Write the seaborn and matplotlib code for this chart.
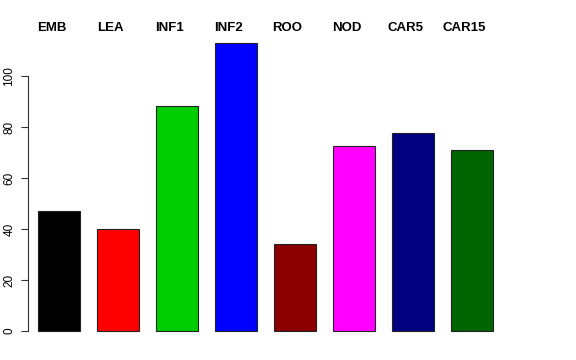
import matplotlib
matplotlib.use("Agg")
import matplotlib.pyplot as plt
import matplotlib.transforms as mtransforms
import seaborn as sns
import pandas as pd

categories = ["EMB", "LEA", "INF1", "INF2", "ROO", "NOD", "CAR5", "CAR15"]
values = [47.1, 40.0, 88.2, 112.9, 34.1, 72.5, 77.6, 71.0]
colors = ["#000000", "#FF0000", "#00CD00", "#0000FF", "#8B0000", "#FF00FF", "#000080", "#006400"]
yticks = [0, 20, 40, 60, 80, 100]

sns.set_style("white")
plt.rcParams["font.family"] = ["Liberation Sans", "DejaVu Sans"]
plt.rcParams["text.color"] = "black"
plt.rcParams["xtick.color"] = "black"
plt.rcParams["ytick.color"] = "black"

W, H = 576, 360
fig = plt.figure(figsize=(W / 100, H / 100), dpi=100)
left_px, right_px, top_px, bottom_px = 28, 548, 40, 342
ax = fig.add_axes([left_px / W, 1 - bottom_px / H, (right_px - left_px) / W, (bottom_px - top_px) / H])

df = pd.DataFrame({"cat": categories, "val": values})
sns.barplot(data=df, x="cat", y="val", hue="cat", palette=colors, order=categories,
            hue_order=categories, width=42 / 59, saturation=1, legend=False,
            edgecolor="#222222", linewidth=0.8, ax=ax)

ppu = 59.0
ax.set_xlim((left_px - 59) / ppu, (right_px - 59) / ppu)
ax.set_ylim((331 - bottom_px) / 2.55, (331 - top_px) / 2.55)

for s in ["top", "right", "bottom"]:
    ax.spines[s].set_visible(False)
ax.spines["left"].set_bounds(0, 100)
ax.spines["left"].set_color("#333333")
ax.spines["left"].set_linewidth(0.8)

ax.set_yticks(yticks)
ax.set_yticklabels([str(t) for t in yticks], rotation=90, va="center", fontsize=8.5, color="black")
ax.tick_params(axis="y", length=5, width=0.8, color="#333333", pad=4, left=True)

ax.xaxis.set_ticks_position("top")
ax.tick_params(axis="x", length=0, pad=4, top=True, bottom=False, labeltop=True, labelbottom=False)
ax.set_xticks(range(len(categories)))
ax.set_xticklabels(categories, fontsize=9.5, fontweight="bold", color="black")
offset = mtransforms.ScaledTranslation(-7.5 / 100, 0, fig.dpi_scale_trans)
for lab in ax.get_xticklabels():
    lab.set_transform(lab.get_transform() + offset)

ax.set_xlabel("")
ax.set_ylabel("")
ax.grid(False)
fig.savefig("out.png", dpi=100)
